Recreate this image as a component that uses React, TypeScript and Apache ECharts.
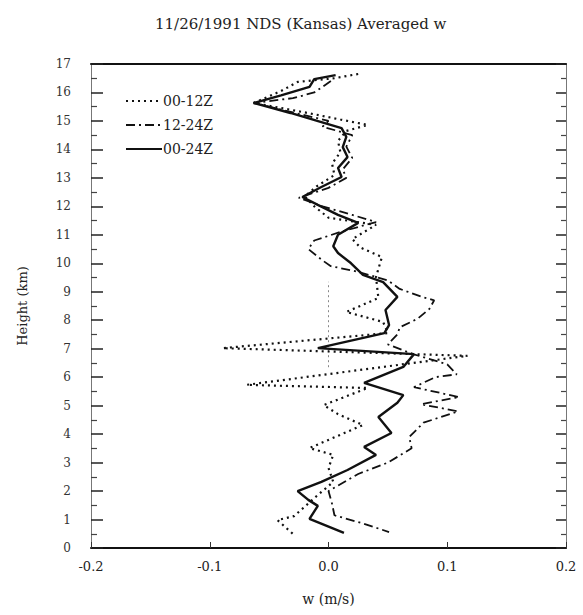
import React, { useEffect, useRef } from "react";
import * as echarts from "echarts";

// Series 00-12Z (dotted)
const h0012 = [16.65, 16.5, 16.37, 16.05, 15.63, 15.3, 15.05, 14.86, 14.65, 14.3, 13.9, 13.5, 13.1, 12.7, 12.35, 12.0, 11.6, 11.35, 11.1, 10.85, 10.55, 10.22, 9.52, 8.78, 8.29, 7.94, 7.55, 7.02, 6.75, 5.73, 5.62, 5.02, 4.7, 4.32, 3.51, 3.27, 2.81, 2.32, 1.79, 1.12, 0.98, 0.46];
const w0012 = [0.025, 0.005, -0.026, -0.04, -0.063, -0.02, 0.01, 0.033, 0.015, 0.008, 0.01, 0.003, 0.005, -0.01, -0.02, -0.012, 0.0, 0.04, 0.03, 0.02, 0.027, 0.045, 0.04, 0.042, 0.015, 0.046, 0.05, -0.089, 0.117, -0.069, 0.033, -0.004, 0.008, 0.029, -0.016, 0.004, 0.0, 0.004, -0.011, -0.029, -0.043, -0.029];

// Series 12-24Z (dash-dot)
const h1224 = [16.4, 16.0, 15.8, 15.63, 15.3, 15.0, 14.8, 14.5, 14.1, 13.7, 13.3, 13.0, 12.65, 12.3, 12.0, 11.7, 11.45, 11.1, 10.8, 10.5, 10.1, 9.9, 9.7, 9.4, 9.1, 8.8, 8.7, 8.4, 8.05, 7.75, 7.5, 7.15, 6.8, 6.45, 6.1, 6.0, 5.65, 5.3, 5.05, 4.8, 4.4, 3.9, 3.5, 3.0, 2.6, 2.0, 1.55, 1.15, 0.85, 0.56];
const w1224 = [0.002, -0.012, -0.03, -0.063, -0.03, 0.0, -0.005, 0.02, 0.015, 0.02, 0.012, 0.015, 0.0, -0.025, -0.005, 0.02, 0.04, 0.01, -0.012, -0.017, -0.005, 0.002, 0.025, 0.05, 0.06, 0.08, 0.089, 0.085, 0.075, 0.06, 0.058, 0.05, 0.072, 0.1, 0.108, 0.09, 0.072, 0.11, 0.078, 0.109, 0.08, 0.068, 0.07, 0.05, 0.025, 0.0, 0.003, 0.005, 0.03, 0.051];

// Series 00-24Z (solid)
const h0024 = [16.61, 16.47, 16.2, 15.9, 15.63, 15.28, 14.96, 14.75, 14.44, 14.08, 13.73, 13.35, 13.03, 12.68, 12.33, 12.05, 11.7, 11.42, 11.0, 10.6, 10.36, 10.0, 9.59, 9.34, 8.82, 8.36, 7.83, 7.55, 7.02, 6.81, 6.36, 5.8, 5.37, 5.1, 4.6, 4.04, 3.55, 3.27, 2.74, 2.32, 2.0, 1.69, 1.48, 1.02, 0.53];
const w0024 = [0.006, -0.012, -0.016, -0.04, -0.063, -0.032, -0.006, 0.011, 0.015, 0.012, 0.016, 0.008, 0.011, -0.006, -0.022, -0.009, 0.008, 0.025, 0.008, 0.004, 0.008, 0.019, 0.029, 0.046, 0.058, 0.048, 0.051, 0.047, -0.009, 0.072, 0.063, 0.03, 0.063, 0.058, 0.042, 0.053, 0.03, 0.04, 0.016, -0.006, -0.026, -0.017, -0.009, -0.016, 0.013];

// Thin reference segment at w = 0
const hRef = [6.35, 9.35];
const wRef = [0, 0];

const xTicks = [-0.2, -0.1, 0.0, 0.1, 0.2];
const yTicks = [0, 17];

const zip = (w: number[], h: number[]) => w.map((v, i) => [v, h[i]]);

const SERIF = "DejaVu Serif";
const INK = "#111";

export default function App() {
  const ref = useRef<HTMLDivElement>(null);
  useEffect(() => {
    if (!ref.current) return;
    const chart = echarts.init(ref.current, undefined, { renderer: "svg" });
    const axisFont = { fontFamily: SERIF, fontSize: 13, color: "#222" };
    chart.setOption({
      animation: false,
      backgroundColor: "#fff",
      title: {
        text: "11/26/1991 NDS (Kansas) Averaged w",
        left: 150,
        top: 11,
        textStyle: { fontFamily: SERIF, fontSize: 15, fontWeight: "normal", color: "#222" },
      },
      legend: {
        data: ["00-12Z", "12-24Z", "00-24Z"],
        orient: "vertical",
        left: 120,
        top: 89,
        itemWidth: 36,
        itemHeight: 14,
        itemGap: 10,
        itemStyle: { opacity: 0 },
        textStyle: { fontFamily: SERIF, fontSize: 14, color: "#222", padding: [0, 0, 0, -4] },
      },
      grid: { left: 91, right: 17, top: 64, bottom: 67 },
      xAxis: [
        {
          type: "value",
          position: "bottom",
          min: xTicks[0],
          max: xTicks[xTicks.length - 1],
          interval: 0.1,
          name: "w (m/s)",
          nameLocation: "middle",
          nameGap: 44,
          nameTextStyle: { fontFamily: SERIF, fontSize: 14, color: "#222" },
          axisLine: { show: true, onZero: false, lineStyle: { color: INK, width: 2 } },
          axisTick: { show: true, inside: true, length: 6, lineStyle: { color: "#333" } },
          axisLabel: { ...axisFont, margin: 12, formatter: (v: number) => v.toFixed(1) },
          splitLine: { show: false },
        },
        {
          type: "value",
          position: "top",
          min: xTicks[0],
          max: xTicks[xTicks.length - 1],
          interval: 0.1,
          axisLine: { show: true, onZero: false, lineStyle: { color: INK, width: 2 } },
          axisTick: { show: false },
          axisLabel: { show: false },
          splitLine: { show: false },
        },
      ],
      yAxis: [
        {
          type: "value",
          position: "left",
          min: yTicks[0],
          max: yTicks[1],
          interval: 1,
          name: "Height (km)",
          nameLocation: "middle",
          nameGap: 62,
          nameTextStyle: { fontFamily: SERIF, fontSize: 13, color: "#222" },
          axisLine: { show: true, onZero: false, lineStyle: { color: "#777", width: 1 } },
          axisTick: { show: true, inside: true, length: 12, lineStyle: { color: "#222", width: 1.5 } },
          minorTick: { show: true, splitNumber: 2, length: 6, lineStyle: { color: "#444", width: 1.2 } },
          axisLabel: { fontFamily: SERIF, fontSize: 12, color: "#333", margin: 20 },
          splitLine: { show: false },
        },
        {
          type: "value",
          position: "right",
          min: yTicks[0],
          max: yTicks[1],
          interval: 1,
          axisLine: { show: true, onZero: false, lineStyle: { color: "#777", width: 1 } },
          axisTick: { show: true, inside: true, length: 10, lineStyle: { color: "#222", width: 1.5 } },
          minorTick: { show: true, splitNumber: 2, length: 5, lineStyle: { color: "#444", width: 1.2 } },
          axisLabel: { show: false },
          splitLine: { show: false },
        },
      ],
      series: [
        {
          name: "zero",
          type: "line",
          data: zip(wRef, hRef),
          symbol: "none",
          silent: true,
          itemStyle: { color: "#888" },
          lineStyle: { color: "#888", width: 1, type: [2, 3] },
        },
        {
          name: "00-12Z",
          type: "line",
          data: zip(w0012, h0012),
          symbol: "none",
          itemStyle: { color: INK },
          lineStyle: { color: INK, width: 2.2, type: [2, 4] },
        },
        {
          name: "12-24Z",
          type: "line",
          data: zip(w1224, h1224),
          symbol: "none",
          itemStyle: { color: INK },
          lineStyle: { color: INK, width: 1.8, type: [9, 4, 2, 4] },
        },
        {
          name: "00-24Z",
          type: "line",
          data: zip(w0024, h0024),
          symbol: "none",
          itemStyle: { color: INK },
          lineStyle: { color: INK, width: 2.4, type: "solid" },
        },
      ],
    });
    return () => chart.dispose();
  }, []);
  return (
    <div
      ref={ref}
      style={{ position: "fixed", left: 0, top: 0, width: 583, height: 615 }}
    />
  );
}
